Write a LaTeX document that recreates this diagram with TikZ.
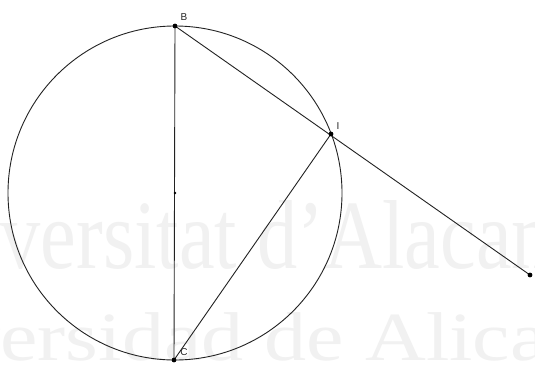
\documentclass[tikz,border=0pt]{standalone}
\usepackage{graphicx}
\usepackage{fontspec}
\setmainfont{Liberation Serif}
\newfontfamily\lblfont{Liberation Sans}
\definecolor{wm}{HTML}{F1F1F1}
\definecolor{ln}{HTML}{222222}
\tikzset{
  geo/.style={draw=ln, line width=0.9pt},
  pt/.style={circle, fill=black, inner sep=0pt, minimum size=4.8pt},
  smallpt/.style={circle, fill=black, inner sep=0pt, minimum size=2.6pt},
  lbl/.style={font=\lblfont\fontsize{10}{11}\selectfont, inner sep=0pt, text=black!85},
  wmark/.style={text=wm, inner sep=0pt, anchor=base west}
}
\begin{document}
\begin{tikzpicture}[x=1pt,y=-1pt]
\useasboundingbox (0,0) rectangle (535,370);
\fill[white] (0,0) rectangle (535,370);
% watermark
\node[wmark, font=\fontsize{98}{100}\selectfont] (wm1) at (-120,268) {\scalebox{0.82}[1]{Universitat d’Alacant}};
\node[wmark, font=\fontsize{69}{70}\selectfont] (wm2) at (-168,360) {\scalebox{1.22}[1]{Universidad de Alicante}};
% geometry
\coordinate (O) at (175,193);
\coordinate (B) at (175,26);
\coordinate (C) at (174,360);
\coordinate (I) at (331,134);
\coordinate (P) at (530,275);
\draw[geo] (O) circle[radius=167];
\draw[geo] (B) -- (C);
\draw[geo] (B) -- (P);
\draw[geo] (C) -- (I);
\node[smallpt] (o) at (O) {};
\node[pt] (b) at (B) {};
\node[pt] (c) at (C) {};
\node[pt] (i) at (I) {};
\node[pt] (p) at (P) {};
\node[lbl] (lb) at (184,17) {B};
\node[lbl] (li) at (338,126) {I};
\node[lbl] (lc) at (184,352) {C};
\end{tikzpicture}
\end{document}
